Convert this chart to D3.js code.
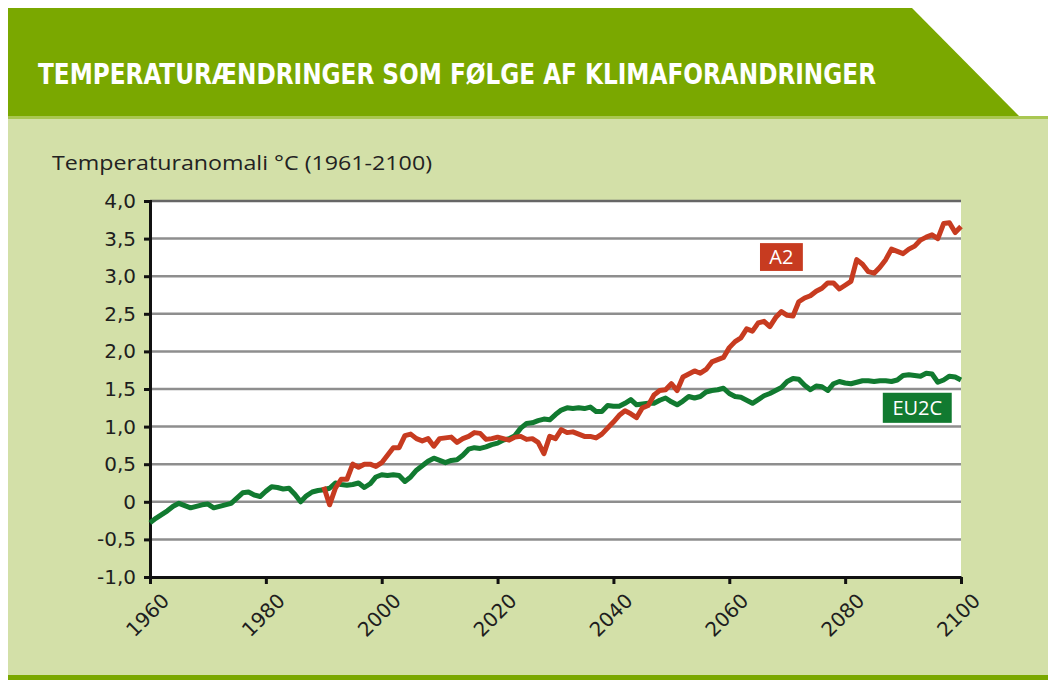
<!DOCTYPE html>
<html>
<head>
<meta charset="utf-8">
<script src="https://cdn.jsdelivr.net/npm/d3@7"></script>
<style>
  body { margin: 0; background: #fff; }
  svg { display: block; }
</style>
</head>
<body>
<div id="chart"></div>
<script>
// EU2C scenario, 1960-2100
var eu2cStart = 1960;
var eu2cValues = [
  -0.28, -0.22, -0.17, -0.12, -0.06, -0.02, -0.05, -0.08, -0.06, -0.04,
  -0.03, -0.08, -0.06, -0.04, -0.02, 0.05, 0.12, 0.13, 0.09, 0.07,
  0.14, 0.20, 0.19, 0.17, 0.18, 0.10, 0.00, 0.08, 0.13, 0.15,
  0.16, 0.18, 0.25, 0.23, 0.22, 0.23, 0.25, 0.19, 0.24, 0.33,
  0.36, 0.35, 0.36, 0.35, 0.27, 0.33, 0.42, 0.48, 0.54, 0.58,
  0.55, 0.52, 0.55, 0.56, 0.62, 0.70, 0.72, 0.71, 0.73, 0.76,
  0.78, 0.82, 0.84, 0.88, 0.98, 1.04, 1.05, 1.08, 1.10, 1.09,
  1.16, 1.22, 1.25, 1.24, 1.25, 1.24, 1.26, 1.20, 1.20, 1.28,
  1.27, 1.27, 1.31, 1.36, 1.29, 1.30, 1.31, 1.31, 1.35, 1.38,
  1.33, 1.29, 1.34, 1.40, 1.38, 1.40, 1.46, 1.48, 1.49, 1.51,
  1.44, 1.40, 1.39, 1.35, 1.31, 1.36, 1.41, 1.44, 1.48, 1.52,
  1.60, 1.64, 1.63, 1.55, 1.49, 1.54, 1.53, 1.48, 1.57, 1.60,
  1.58, 1.57, 1.59, 1.61, 1.61, 1.60, 1.61, 1.61, 1.60, 1.62,
  1.68, 1.69, 1.68, 1.67, 1.71, 1.70, 1.59, 1.62, 1.67, 1.66,
  1.62
];

// A2 scenario, 1990-2100
var a2Start = 1990;
var a2Values = [
  0.20, -0.04, 0.18, 0.30, 0.30, 0.50, 0.46, 0.50, 0.50, 0.47,
  0.52, 0.62, 0.72, 0.72, 0.88, 0.90, 0.84, 0.81, 0.84, 0.74,
  0.84, 0.85, 0.86, 0.79, 0.84, 0.87, 0.92, 0.91, 0.83, 0.84,
  0.86, 0.84, 0.82, 0.86, 0.87, 0.83, 0.84, 0.79, 0.64, 0.87,
  0.84, 0.96, 0.92, 0.93, 0.90, 0.87, 0.87, 0.85, 0.90, 0.98,
  1.06, 1.15, 1.21, 1.17, 1.12, 1.25, 1.28, 1.42, 1.48, 1.49,
  1.57, 1.48, 1.66, 1.70, 1.74, 1.71, 1.76, 1.86, 1.89, 1.92,
  2.05, 2.13, 2.18, 2.30, 2.27, 2.38, 2.40, 2.33, 2.45, 2.53,
  2.48, 2.47, 2.66, 2.71, 2.74, 2.80, 2.84, 2.91, 2.91, 2.83,
  2.88, 2.93, 3.22, 3.16, 3.06, 3.04, 3.12, 3.22, 3.36, 3.33,
  3.30, 3.36, 3.40, 3.48, 3.52, 3.55, 3.50, 3.70, 3.71, 3.58,
  3.66
];

var yTicks = [-1, -0.5, 0, 0.5, 1, 1.5, 2, 2.5, 3, 3.5, 4];
var xTicks = [1960, 1980, 2000, 2020, 2040, 2060, 2080, 2100];

var title = "TEMPERATURÆNDRINGER SOM FØLGE AF KLIMAFORANDRINGER";
var subtitle = "Temperaturanomali °C (1961-2100)";

var W = 1048, H = 680;
var svg = d3.select("#chart").append("svg")
    .attr("width", W)
    .attr("height", H);

// panel + header
svg.append("rect")
    .attr("x", 8).attr("y", 117)
    .attr("width", W - 8).attr("height", H - 117)
    .attr("fill", "#d3e0a8");
svg.append("rect")
    .attr("x", 8).attr("y", 675)
    .attr("width", W - 8).attr("height", 5)
    .attr("fill", "#7aa800");
svg.append("path")
    .attr("d", "M8,8 L912,8 L1020,117 L8,117 Z")
    .attr("fill", "#7aa800");
svg.append("rect")
    .attr("x", 8).attr("y", 116)
    .attr("width", W - 8).attr("height", 3)
    .attr("fill", "#a9c752");

svg.append("text")
    .attr("x", 38).attr("y", 84)
    .attr("font-family", "DejaVu Sans Condensed, DejaVu Sans")
    .attr("font-stretch", "condensed")
    .attr("font-weight", "bold")
    .attr("font-size", 29)
    .attr("textLength", 838)
    .attr("lengthAdjust", "spacingAndGlyphs")
    .attr("fill", "#fff")
    .text(title);

svg.append("text")
    .attr("x", 52).attr("y", 170)
    .attr("font-family", "Open Sans")
    .attr("font-size", 20)
    .attr("textLength", 380)
    .attr("lengthAdjust", "spacingAndGlyphs")
    .attr("fill", "#222")
    .text(subtitle);

// plot
var margin = {left: 150, top: 201, right: 961, bottom: 577};
var x = d3.scaleLinear().domain([1960, 2100]).range([margin.left, margin.right]);
var y = d3.scaleLinear().domain([-1, 4]).range([margin.bottom, margin.top]);

svg.append("rect")
    .attr("x", x(1960)).attr("y", y(4))
    .attr("width", x(2100) - x(1960)).attr("height", y(-1) - y(4))
    .attr("fill", "#fff");

// gridlines
svg.append("g")
  .selectAll("line")
  .data(yTicks.filter(function(d){ return d > -1; }))
  .enter().append("line")
    .attr("x1", x(1960)).attr("x2", x(2100))
    .attr("y1", function(d){ return y(d); })
    .attr("y2", function(d){ return y(d); })
    .attr("stroke", function(d){ return d === 4 ? "#666" : "#8e8e8e"; })
    .attr("stroke-width", 2.5);

// danish decimal comma, plain hyphen for minus
var fmt = function(d){ return d === 0 ? "0" : d.toFixed(1).replace(".", ","); };

var yAxis = svg.append("g")
    .attr("transform", "translate(" + x(1960) + ",0)")
    .call(d3.axisLeft(y).tickValues(yTicks).tickFormat(fmt).tickSize(6).tickPadding(8));
yAxis.attr("font-size", 20).attr("font-family", "DejaVu Sans");
yAxis.select(".domain").attr("stroke", "#111").attr("stroke-width", 3);
yAxis.selectAll(".tick line").attr("stroke", "#111").attr("stroke-width", 3);
yAxis.selectAll("text")
    .attr("fill", "#1e1e1e");

var xAxis = svg.append("g")
    .attr("transform", "translate(0," + y(-1) + ")")
    .call(d3.axisBottom(x).tickValues(xTicks).tickFormat(d3.format("d")).tickSize(7).tickSizeOuter(0));
xAxis.attr("font-size", 20).attr("font-family", "DejaVu Sans");
xAxis.select(".domain").attr("stroke", "#111").attr("stroke-width", 3);
xAxis.selectAll(".tick line").attr("stroke", "#111").attr("stroke-width", 3);
xAxis.selectAll("text")
    .attr("fill", "#1e1e1e")
    .attr("text-anchor", "end")
    .attr("dy", null)
    .attr("y", null)
    .attr("transform", "translate(20,25) rotate(-45)");

// lines
var line = d3.line()
    .x(function(d){ return x(d.year); })
    .y(function(d){ return y(d.value); });

var eu2c = eu2cValues.map(function(v, i){ return {year: eu2cStart + i, value: v}; });
var a2 = a2Values.map(function(v, i){ return {year: a2Start + i, value: v}; });

svg.append("path")
    .datum(eu2c)
    .attr("fill", "none")
    .attr("stroke", "#117a30")
    .attr("stroke-width", 5)
    .attr("stroke-linejoin", "round")
    .attr("d", line);

svg.append("path")
    .datum(a2)
    .attr("fill", "none")
    .attr("stroke", "#c73b20")
    .attr("stroke-width", 5)
    .attr("stroke-linejoin", "round")
    .attr("d", line);

// series labels
var labels = [
  {name: "A2", color: "#c73b20", x0: 2065.3, x1: 2072.7, y0: 3.44, y1: 3.07},
  {name: "EU2C", color: "#117a30", x0: 2086.5, x1: 2098.4, y0: 1.45, y1: 1.05}
];
labels.forEach(function(l){
  svg.append("rect")
      .attr("x", x(l.x0)).attr("y", y(l.y0))
      .attr("width", x(l.x1) - x(l.x0)).attr("height", y(l.y1) - y(l.y0))
      .attr("fill", l.color);
  svg.append("text")
      .attr("x", (x(l.x0) + x(l.x1)) / 2)
      .attr("y", (y(l.y0) + y(l.y1)) / 2 + 7)
      .attr("text-anchor", "middle")
      .attr("font-family", "Open Sans")
      .attr("font-size", 20)
      .attr("fill", "#fff")
      .text(l.name);
});
</script>
</body>
</html>
